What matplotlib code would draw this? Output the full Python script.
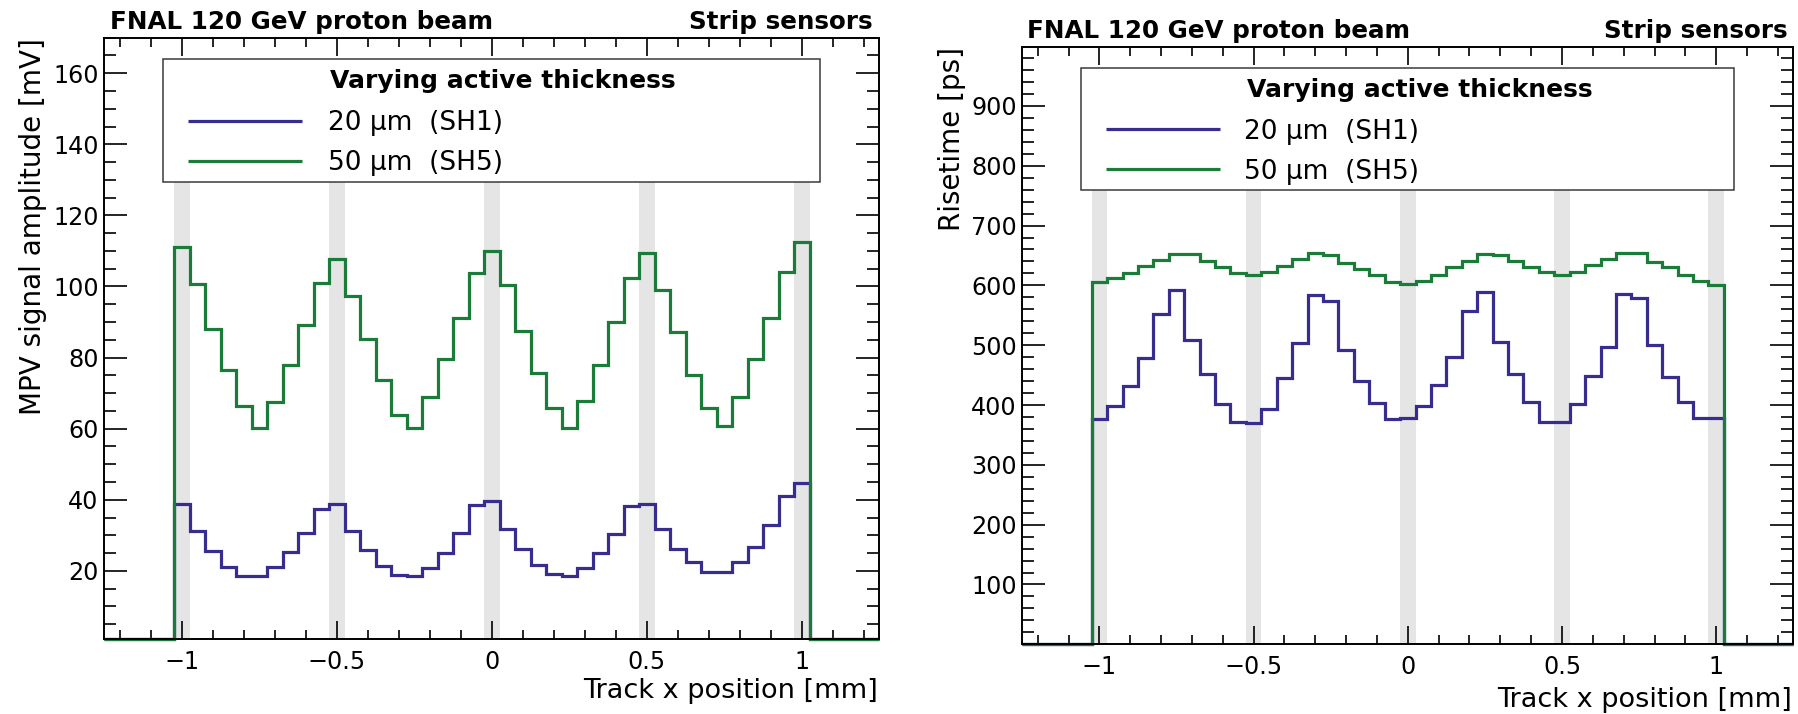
import numpy as np
import matplotlib
matplotlib.use("Agg")
import matplotlib.pyplot as plt
from matplotlib.patches import Rectangle
from matplotlib.lines import Line2D
from matplotlib.ticker import FixedLocator, FixedFormatter, MultipleLocator

# ---------------------------------------------------------------- data
# Track x position binning [mm]: 50 um bins across the strip sensor
bin_width = 0.05
bin_centers = np.round(np.arange(-1.0, 1.0 + 1e-9, bin_width), 3)
x_range = (-1.25, 1.25)

# Metal strip positions [mm] and their width
strip_centers = [-1.0, -0.5, 0.0, 0.5, 1.0]
strip_width = 0.05

# MPV signal amplitude [mV]
amp_sh1 = [38.9, 31.3, 25.6, 21.1, 18.6, 18.6, 21.1, 25.2, 30.5, 37.5,
           38.7, 31.3, 25.9, 21.4, 18.9, 18.5, 20.8, 25.1, 30.5, 38.4,
           39.6, 31.7, 26.0, 21.7, 19.0, 18.5, 20.8, 24.9, 30.4, 38.1,
           38.9, 31.9, 26.0, 22.4, 19.6, 19.6, 22.6, 26.8, 32.9, 41.0, 44.6]
amp_sh5 = [111.2, 100.7, 88.1, 76.4, 66.5, 60.2, 67.5, 77.8, 89.3, 101.1,
           107.6, 97.4, 85.1, 73.8, 63.9, 60.3, 68.9, 79.7, 91.2, 103.7,
           110.0, 100.3, 87.6, 75.6, 65.9, 60.3, 67.8, 77.8, 90.0, 102.3,
           109.3, 99.1, 87.3, 75.2, 65.9, 60.7, 68.9, 79.7, 91.2, 104.2, 112.6]

# Risetime [ps]
rise_sh1 = [376.5, 397.8, 431.0, 479.3, 552.0, 591.6, 508.4, 452.5, 401.7, 371.5,
            369.8, 393.9, 444.7, 503.9, 583.2, 573.2, 491.6, 439.7, 403.4, 376.5,
            378.2, 397.8, 434.0, 480.0, 557.0, 589.0, 505.6, 452.5, 404.5, 371.5,
            371.5, 402.0, 448.0, 497.0, 585.5, 579.3, 501.0, 447.0, 404.5, 379.0, 379.0]
rise_sh5 = [606.0, 612.0, 621.0, 632.0, 642.0, 652.5, 652.5, 641.0, 630.0, 621.0,
            617.0, 623.0, 633.0, 643.6, 653.6, 650.0, 638.0, 628.0, 616.8, 605.6,
            601.7, 607.0, 617.0, 630.0, 641.0, 652.5, 650.0, 641.0, 630.0, 622.0,
            618.0, 622.0, 633.5, 644.0, 653.6, 653.6, 638.5, 630.0, 617.0, 608.0, 601.0]

x_ticks = [-1.0, -0.5, 0.0, 0.5, 1.0]
x_tick_labels = ["\u22121", "\u22120.5", "0", "0.5", "1"]
amp_ticks = [20, 40, 60, 80, 100, 120, 140, 160]
rise_ticks = [100, 200, 300, 400, 500, 600, 700, 800, 900]

series_labels = ["20 \u03bcm  (SH1)", "50 \u03bcm  (SH5)"]
legend_title = "Varying active thickness"
beam_label = "FNAL 120 GeV proton beam"
sensor_label = "Strip sensors"
x_title = "Track x position [mm]"
amp_title = "MPV signal amplitude [mV]"
rise_title = "Risetime [ps]"

# ---------------------------------------------------------------- style
C_SH1 = "#372d8f"
C_SH5 = "#1b7b39"
C_STRIP = "#e5e5e5"
LW_HIST = 2.3

plt.rcParams["font.family"] = ["DejaVu Sans"]

W, H = 1799, 714
fig = plt.figure(figsize=(W / 100, H / 100), dpi=100)
fig.patch.set_facecolor("white")


def fx(x):
    return x / W


def fy(y):
    return 1.0 - y / H


def axes_at(left, top, right, bottom):
    return fig.add_axes([fx(left), fy(bottom), (right - left) / W, (bottom - top) / H])


def draw_hist(ax, values, color, ylo, z):
    edges = np.concatenate(([x_range[0]], bin_centers - bin_width / 2,
                            [bin_centers[-1] + bin_width / 2, x_range[1]]))
    vals = np.concatenate(([0.0], np.asarray(values, float), [0.0]))
    vals = np.maximum(vals, ylo)  # empty bins sit on the frame
    ax.stairs(vals, edges, baseline=None, color=color, lw=LW_HIST,
              clip_on=False, zorder=z)


def style_axes(ax, ylim, yticks, yminor):
    ax.set_xlim(*x_range)
    ax.set_ylim(*ylim)
    ax.xaxis.set_major_locator(FixedLocator(x_ticks))
    ax.xaxis.set_major_formatter(FixedFormatter(x_tick_labels))
    ax.xaxis.set_minor_locator(MultipleLocator(0.1))
    ax.yaxis.set_major_locator(FixedLocator(yticks))
    ax.yaxis.set_minor_locator(MultipleLocator(yminor))
    ax.tick_params(which="both", direction="in", top=True, right=True,
                   width=1.2, color="black")
    ax.tick_params(axis="x", which="major", length=12.7, pad=8.3, labelsize=17.2)
    ax.tick_params(axis="x", which="minor", length=6.7)
    ax.tick_params(axis="y", which="major", length=16.6, pad=4.0, labelsize=17.2)
    ax.tick_params(axis="y", which="minor", length=8.3)
    for s in ax.spines.values():
        s.set_linewidth(1.4)
        s.set_zorder(6)


def draw_legend(box, line_x, line_ys, text_x, title_xy):
    x0, y0, x1, y1 = box
    fig.add_artist(Rectangle((fx(x0), fy(y1)), (x1 - x0) / W, (y1 - y0) / H,
                             transform=fig.transFigure, facecolor="white",
                             edgecolor="#3a3a3a", lw=1.1, zorder=5))
    fig.text(fx(title_xy[0]), fy(title_xy[1]), legend_title, fontsize=18,
             fontweight="bold", ha="left", va="baseline", zorder=6)
    for ly, color, label in zip(line_ys, [C_SH1, C_SH5], series_labels):
        fig.add_artist(Line2D([fx(line_x[0]), fx(line_x[1])], [fy(ly), fy(ly)],
                              transform=fig.transFigure, color=color, lw=LW_HIST,
                              solid_capstyle="butt", zorder=6))
        fig.text(fx(text_x), fy(ly + 9.6), label, fontsize=19,
                 ha="left", va="baseline", zorder=6)


panels = [
    dict(frame=(104.3, 37.7, 879.3, 638.7), ylim=(0.9, 170.0), yticks=amp_ticks,
         yminor=5, band_top=150, series=(amp_sh1, amp_sh5), ytitle=amp_title,
         ytitle_xy=(40.7, 37.7), xtitle_xy=(878.3, 698.5),
         beam_xy=(110, 29.3), sensor_xy=(873, 29.3),
         legend=dict(box=(163.3, 59.3, 820, 182), line_x=(188, 302.3),
                     line_ys=(120.6, 160.9), text_x=328, title_xy=(330, 88.3))),
    dict(frame=(1022.3, 46.7, 1793.3, 643.7), ylim=(1.0, 999.0), yticks=rise_ticks,
         yminor=20, band_top=900, series=(rise_sh1, rise_sh5), ytitle=rise_title,
         ytitle_xy=(960, 46.7), xtitle_xy=(1791.7, 706.7),
         beam_xy=(1027, 37.6), sensor_xy=(1787.3, 37.6),
         legend=dict(box=(1081, 67.7, 1734, 190), line_x=(1105.7, 1220),
                     line_ys=(129, 169.3), text_x=1244, title_xy=(1247, 96.7))),
]

for p in panels:
    ax = axes_at(*p["frame"])
    ylo = p["ylim"][0]
    ax.bar(strip_centers, p["band_top"] - ylo, bottom=ylo, width=strip_width,
           color=C_STRIP, linewidth=0, zorder=1)
    draw_hist(ax, p["series"][0], C_SH1, ylo, 3)
    draw_hist(ax, p["series"][1], C_SH5, ylo, 4)
    style_axes(ax, p["ylim"], p["yticks"], p["yminor"])

    fig.text(fx(p["beam_xy"][0]), fy(p["beam_xy"][1]), beam_label, fontsize=17.7,
             fontweight="bold", ha="left", va="baseline")
    fig.text(fx(p["sensor_xy"][0]), fy(p["sensor_xy"][1]), sensor_label, fontsize=17.7,
             fontweight="bold", ha="right", va="baseline")
    fig.text(fx(p["xtitle_xy"][0]), fy(p["xtitle_xy"][1]), x_title, fontsize=19.5,
             ha="right", va="baseline")
    fig.text(fx(p["ytitle_xy"][0]), fy(p["ytitle_xy"][1]), p["ytitle"], fontsize=20,
             rotation=90, rotation_mode="anchor", ha="right", va="baseline")
    draw_legend(**p["legend"])

fig.savefig("out.png", dpi=100, facecolor="white")
